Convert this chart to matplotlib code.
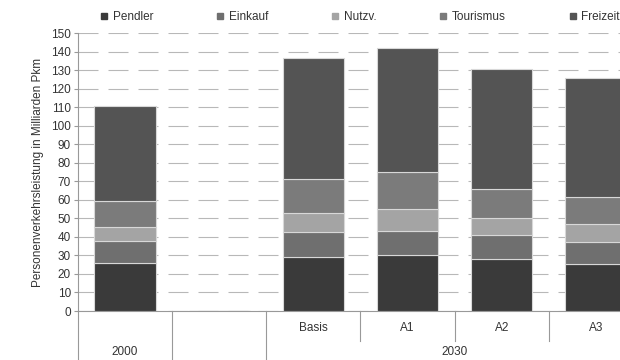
import matplotlib.pyplot as plt
from matplotlib.lines import Line2D

plt.rcParams['font.family'] = ['Liberation Sans', 'DejaVu Sans']

# categories on the x axis (the second slot is left empty)
scenarios = ['2000', '', 'Basis', 'A1', 'A2', 'A3']
segments = ['Pendler', 'Einkauf', 'Nutzv.', 'Tourismus', 'Freizeit']

# Personenverkehrsleistung, Mrd. Pkm, per purpose
pendler   = [26.1, 0, 29.3, 30.2, 27.9, 25.4]
einkauf   = [11.7, 0, 13.2, 13.1, 13.1, 12.0]
nutzv     = [7.7,  0, 10.2, 11.7, 9.0,  9.4]
tourismus = [14.0, 0, 18.4, 19.9, 15.7, 14.9]
freizeit  = [51.0, 0, 65.2, 66.8, 64.9, 64.2]

colors = ['#3a3a3a', '#6f6f6f', '#a4a4a4', '#7b7b7b', '#545454']
text_col = '#333333'
fs = 8.5

fig = plt.figure(figsize=(6.2, 3.6), dpi=100)
ax = fig.add_axes([78/620, 1 - 311/360, 565/620, 278/360])

x = list(range(len(scenarios)))
bottom = [0] * len(x)
for name, vals, c in zip(segments, [pendler, einkauf, nutzv, tourismus, freizeit], colors):
    ax.bar(x, vals, 0.65, bottom=bottom, color=c, edgecolor='#d8d8d8',
           linewidth=0.8, label=name, zorder=3)
    bottom = [b + v for b, v in zip(bottom, vals)]

ax.set_xlim(-0.5, 5.5)
ax.set_ylim(0, 150)
ax.set_yticks(range(0, 151, 10))
ax.tick_params(axis='y', labelsize=fs, colors=text_col, length=3, color='#999999', pad=2)
ax.set_xticks([])
ax.yaxis.grid(True, color='#b8b8b8', linestyle=(0, (18, 9)), linewidth=0.8, zorder=0)
for s in ['top', 'right']:
    ax.spines[s].set_visible(False)
ax.spines['left'].set_color('#999999')
ax.spines['bottom'].set_color('#999999')
ax.set_ylabel('Personenverkehrsleistung in Milliarden Pkm', fontsize=fs,
              color=text_col, labelpad=5)

# two-level category axis below the plot
trans = ax.get_xaxis_transform()
long_lines = [-0.5, 0.5, 1.5]
short_lines = [2.5, 3.5, 4.5]
for xv in long_lines:
    ax.plot([xv, xv], [0, -0.18], color='#999999', lw=0.8, transform=trans, clip_on=False)
for xv in short_lines:
    ax.plot([xv, xv], [0, -0.108], color='#999999', lw=0.8, transform=trans, clip_on=False)
for i in range(2, 6):
    ax.text(i, -0.062, scenarios[i], transform=trans, ha='center', va='center',
            fontsize=fs, color=text_col)
ax.text(0, -0.148, '2000', transform=trans, ha='center', va='center',
        fontsize=fs, color=text_col)
ax.text(3.5, -0.148, '2030', transform=trans, ha='center', va='center',
        fontsize=fs, color=text_col)

handles = [Line2D([], [], marker='s', linestyle='none', markersize=5, color=c)
           for c in colors]
fig.legend(handles, segments, loc='center left', bbox_to_anchor=(94/620, 1 - 17/360),
           ncol=5, frameon=False, fontsize=fs, handlelength=0.7, handletextpad=0.4,
           columnspacing=5.3, borderpad=0, labelcolor=text_col)

fig.savefig('out.png', dpi=100)
